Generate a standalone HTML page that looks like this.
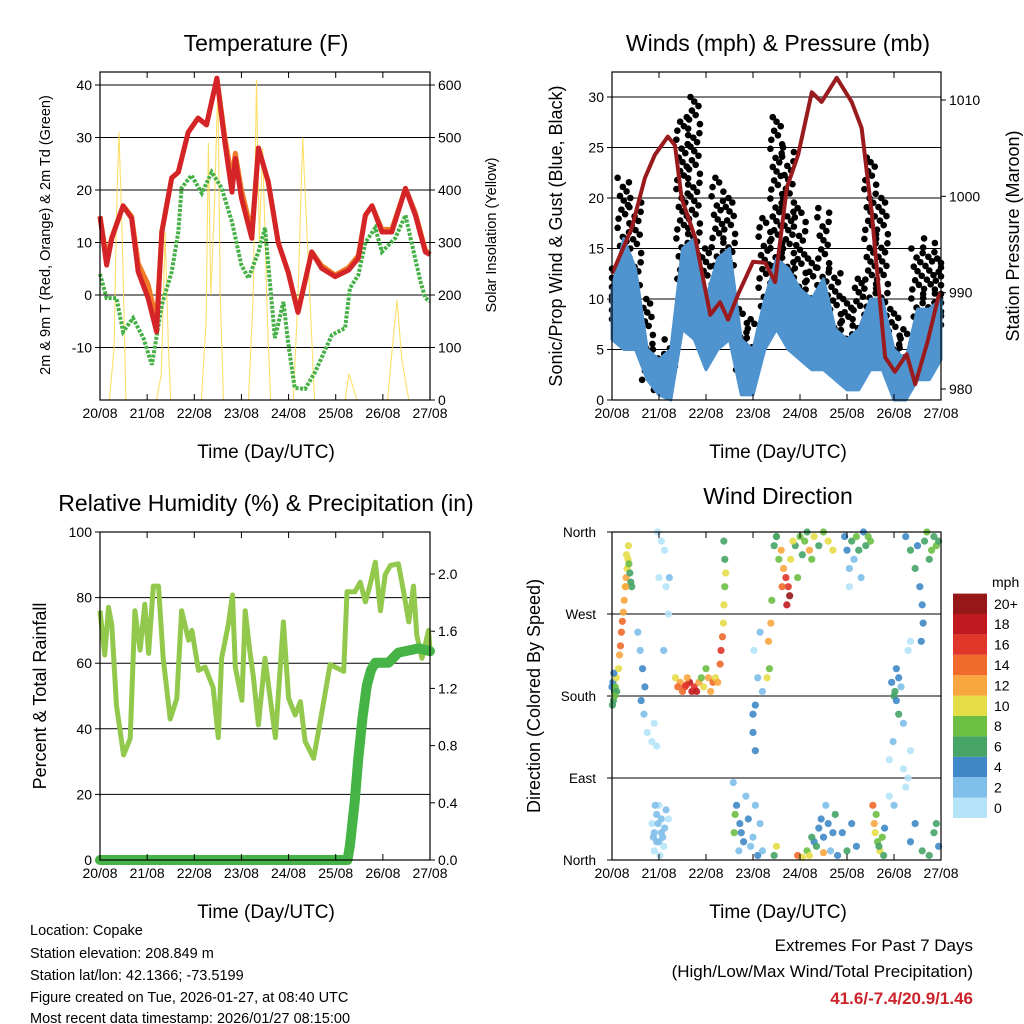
<!DOCTYPE html>
<html><head><meta charset="utf-8">
<style>
html,body{margin:0;padding:0;background:#fff;}
svg{display:block;font-family:"Liberation Sans",sans-serif;}
</style></head>
<body>
<svg id="chart" width="1024" height="1024" viewBox="0 0 1024 1024" xmlns="http://www.w3.org/2000/svg">
<rect x="0" y="0" width="1024" height="1024" fill="#fff"/>
<text x="266" y="51" font-size="23" text-anchor="middle">Temperature (F)</text>
<text x="778" y="51" font-size="23" text-anchor="middle">Winds (mph) &amp; Pressure (mb)</text>
<text x="266" y="511" font-size="23" text-anchor="middle">Relative Humidity (%) &amp; Precipitation (in)</text>
<text x="778" y="504" font-size="23" text-anchor="middle">Wind Direction</text>
<text x="266" y="458" font-size="19" text-anchor="middle">Time (Day/UTC)</text>
<text x="778" y="458" font-size="19" text-anchor="middle">Time (Day/UTC)</text>
<text x="266" y="918" font-size="19" text-anchor="middle">Time (Day/UTC)</text>
<text x="778" y="918" font-size="19" text-anchor="middle">Time (Day/UTC)</text>
<text transform="translate(50,235) rotate(-90)" font-size="14.5" text-anchor="middle">2m &amp; 9m T (Red, Orange) &amp; 2m Td (Green)</text>
<text transform="translate(496,235) rotate(-90)" font-size="14.5" text-anchor="middle">Solar Insolation (Yellow)</text>
<text transform="translate(562,236) rotate(-90)" font-size="18" text-anchor="middle">Sonic/Prop Wind &amp; Gust (Blue, Black)</text>
<text transform="translate(1019,236) rotate(-90)" font-size="18" text-anchor="middle">Station Pressure (Maroon)</text>
<text transform="translate(46,696) rotate(-90)" font-size="18" text-anchor="middle">Percent &amp; Total Rainfall</text>
<text transform="translate(540,696) rotate(-90)" font-size="18" text-anchor="middle">Direction (Colored By Speed)</text>
<g font-size="14.5">
<text x="30" y="935">Location: Copake</text>
<text x="30" y="958">Station elevation: 208.849 m</text>
<text x="30" y="980">Station lat/lon: 42.1366; -73.5199</text>
<text x="30" y="1002">Figure created on Tue, 2026-01-27, at 08:40 UTC</text>
<text x="30" y="1023">Most recent data timestamp: 2026/01/27 08:15:00</text>
</g>
<g font-size="17" text-anchor="end">
<text x="973" y="951">Extremes For Past 7 Days</text>
<text x="973" y="977">(High/Low/Max Wind/Total Precipitation)</text>
<text x="973" y="1004" fill="#cc2229" font-weight="bold">41.6/-7.4/20.9/1.46</text>
</g>
<g id="plots"></g>
</svg>
<script>
// ---------- data ----------
const dayLabels = ["20/08","21/08","22/08","23/08","24/08","25/08","26/08","27/08"];
const tT = [0,0.14,0.25,0.49,0.67,0.81,1.02,1.2,1.31,1.52,1.66,1.87,2.08,2.26,2.48,2.65,2.8,2.87,3.0,3.22,3.36,3.57,3.78,3.99,4.2,4.49,4.7,4.99,5.27,5.48,5.63,5.77,5.98,6.19,6.48,6.69,6.9,7.0];
const tRed = [15,5.7,10.8,17,14.6,4.4,-0.6,-7,12,22.3,23.4,31,33.7,32.4,41.3,29,19.6,26,18.5,10.8,28,21.5,10,4.4,-3.3,8.2,5.1,3.5,4.7,7,15.2,17,12,12,20.3,15.2,8.2,7.7];
const tOrange = [15,7,11,17,15,6,2,-5,12,22.3,23.4,31,33.7,32.4,41.3,30,22,27,20,12,28,21.5,10,4.4,-3.3,8.2,5.6,3.8,5.2,7.5,15.2,17,12.5,12.5,20.3,15.6,8.6,7.7];
const tdT = [0,0.14,0.35,0.49,0.7,0.92,1.1,1.31,1.52,1.66,1.73,1.94,2.16,2.37,2.58,2.8,3.0,3.15,3.36,3.5,3.71,3.89,3.99,4.13,4.35,4.56,4.92,5.2,5.3,5.48,5.63,5.84,5.98,6.26,6.48,6.62,6.8,6.9,7.0];
const tdVal = [4,-0.6,-0.6,-7,-4.4,-8.2,-13.3,-1.9,4.4,12,20.4,22.8,19.4,23.4,20.4,13.9,5.7,3.2,8.2,12.8,-8.2,-1.3,-9,-17.7,-17.9,-14.7,-7.6,-6.3,1.3,3.8,10,12.8,8.2,10.8,15.2,9.5,2.5,-0.6,-1.2];
const solT = [0,0.2,0.3,0.35,0.4,0.45,0.5,0.55,1.2,1.3,1.38,1.45,1.5,2.15,2.25,2.3,2.35,2.42,2.5,2.55,2.62,3.15,3.25,3.32,3.38,3.45,3.55,3.62,4.1,4.2,4.3,4.4,4.55,5.2,5.28,5.35,5.45,6.1,6.2,6.3,6.4,6.55,7];
const solV = [0,0,100,350,510,380,200,0,0,50,320,100,0,0,150,490,200,350,600,200,0,0,200,610,300,480,150,0,0,200,500,300,0,0,50,30,0,0,100,190,80,0,0];
const wT = [0,0.25,0.5,0.75,1,1.25,1.5,1.75,2,2.25,2.5,2.75,3,3.25,3.5,3.75,4,4.25,4.5,4.75,5,5.25,5.5,5.75,6,6.25,6.5,6.75,7];
const windLow = [6,5,5,2,0.5,0,7,6,3,5,6,0.5,0.5,5,7,5,4,3,3,2,1,1,3,3,0,0,2,2,4];
const windHigh = [11,16,13,5,4,5,15,16,10,14,15,6,5,10,14,13,11,10,12,7,6,7,10,10,5,4,9,9,10];
const gustHigh = [13,22,20,10,5,6,28,30,15,22,20,9,8,18,28,25,19,14,19,13,10,12,24,20,9,7,15,16,14];
const presT = [0,0.06,0.42,0.7,0.91,1.19,1.34,1.48,1.77,2.09,2.3,2.47,2.68,3.0,3.26,3.47,3.72,3.96,4.25,4.46,4.78,5.1,5.31,5.53,5.81,6.02,6.27,6.45,6.72,6.94,7];
const presV = [992,992.6,996.7,1001.9,1004.3,1006.2,1005.3,999.8,995.7,987.7,989,987.2,989.8,993.2,993.1,991.1,1000.9,1004.3,1010.8,1009.8,1012.3,1009.8,1007.1,998.1,983.3,981.8,983.6,980.5,985,989.5,990];
const rhT = [0,0.1,0.18,0.25,0.35,0.5,0.64,0.74,0.85,0.95,1.03,1.13,1.24,1.34,1.49,1.63,1.73,1.88,1.95,2.09,2.23,2.4,2.51,2.58,2.72,2.81,2.87,3.01,3.08,3.18,3.25,3.36,3.5,3.61,3.72,3.89,4.0,4.14,4.25,4.35,4.53,4.71,4.88,5.17,5.24,5.41,5.52,5.63,5.73,5.84,5.95,6.05,6.16,6.33,6.44,6.55,6.65,6.72,6.83,6.97,7.0];
const rhV = [76,62.5,77,71.6,47,32,37,76,64,78,63,83.5,83.5,61.5,43,49.2,76,67,70,57.8,58.8,52.6,37.3,61.5,71.6,80.8,58.8,48.7,76,63.4,56.3,41.2,61.5,49.3,37.3,72.6,49.3,44.2,48.3,36.2,31,45.3,59.6,57.5,81.8,81.8,84.7,78.7,83.9,90.8,76,87,89.8,90.3,81.8,72.6,83.5,68.5,61.5,70,64];
const prT = [0,5.25,5.3,5.4,5.48,5.57,5.66,5.75,5.84,6.12,6.33,6.76,7.0];
const prV = [0,0,0.1,0.4,0.71,1.0,1.22,1.33,1.38,1.38,1.45,1.48,1.46];
const dirT = [
 0.0,0.02,0.03,0.05,0.07,0.09,0.1,0.04,0.01,0.06,
 0.14,0.16,0.18,0.2,0.22,0.24,0.26,0.28,0.3,0.32,0.34,0.36,0.38,0.4,0.42,0.31,0.29,0.35,
 0.55,0.6,0.65,0.7,0.62,0.68,0.75,0.85,0.9,0.95,1.0,1.05,0.97,1.12,1.15,1.2,1.1,1.22,
 0.85,0.9,0.95,1.0,1.05,1.1,1.15,0.9,1.0,1.05,1.12,0.95,0.88,0.98,1.08,1.2,0.92,1.02,
 1.35,1.45,1.55,1.65,1.7,1.75,1.85,1.95,2.05,2.1,2.0,2.15,1.5,1.6,1.9,2.2,1.4,1.8,2.25,1.58,
 2.3,2.32,2.35,2.37,2.38,2.4,2.4,2.38,2.42,
 2.58,2.65,2.72,2.8,2.6,2.7,2.9,3.0,3.1,2.62,2.85,3.05,2.75,2.95,3.15,3.2,
 3.0,3.05,3.1,3.02,3.15,3.2,3.3,3.35,3.33,3.38,3.4,3.0,3.05,
 3.45,3.5,3.55,3.6,3.65,3.7,3.75,3.78,3.8,3.9,4.0,3.5,4.1,4.2,4.3,4.4,4.5,4.6,4.7,3.95,3.85,4.05,4.15,4.25,3.62,3.72,
 3.45,3.5,3.95,4.05,4.15,4.3,4.4,4.45,4.35,4.5,4.55,4.6,4.65,4.2,4.7,4.8,4.9,5.0,5.1,5.2,4.75,4.25,4.5,
 4.95,5.0,5.05,5.1,5.2,5.25,5.35,5.05,5.4,5.45,5.5,5.15,5.3,
 5.55,5.58,5.6,5.65,5.7,5.75,5.78,5.8,5.62,5.68,
 5.95,6.0,6.05,6.1,6.15,6.2,6.05,5.98,6.1,6.02,
 6.2,6.35,6.3,6.3,6.35,5.9,6.0,5.9,6.25,
 6.25,6.35,6.45,6.55,6.6,6.65,6.7,6.75,6.8,6.85,6.9,6.95,6.5,6.62,6.58,
 6.35,6.45,6.6,6.75,6.85,6.95,6.9];
const dirV = [
 190,195,175,185,190,200,185,205,170,180,
 210,225,235,250,262,272,285,300,310,320,330,325,315,305,300,335,300,345,
 250,230,210,190,175,160,140,130,150,125,310,350,360,340,300,270,230,310,
 40,30,50,20,45,15,55,10,60,30,35,20,25,40,25,45,60,5,
 200,195,190,195,185,190,195,190,200,185,210,195,185,200,200,200,190,185,195,192,
 215,230,245,260,280,300,330,350,315,
 85,60,40,20,30,10,45,25,5,50,70,60,30,15,40,10,
 140,170,200,230,250,185,200,210,240,260,285,160,120,
 345,355,330,340,320,310,300,290,330,345,355,355,350,340,355,345,360,350,340,310,350,335,360,330,300,280,
 5,15,5,3,10,20,35,45,15,25,60,40,10,5,30,5,30,10,40,15,50,25,8,
 355,340,320,350,355,340,360,300,345,355,350,330,310,
 60,40,30,20,10,25,5,35,50,15,
 195,180,175,160,190,150,210,130,200,185,
 100,240,230,90,120,70,60,110,80,
 355,340,320,300,280,350,360,330,340,355,345,350,345,260,240,
 20,40,10,5,30,15,40];
const dirS = [
 4,4,6,7,8,10,6,4,6,8,
 10,12,14,15,14,13,12,10,12,10,11,8,6,7,6,11,13,10,
 2,3,4,4,4,3,1,0,0,0,0,0,0,0,0,1,2,3,
 1,2,2,2,3,1,2,1,1,3,2,3,2,3,2,1,2,1,
 10,13,16,18,19,17,12,11,13,12,8,14,14,12,9,10,15,18,12,17,
 15,17,14,11,10,9,7,6,10,
 3,4,5,4,8,3,5,2,4,9,2,3,4,3,2,3,
 4,4,3,1,2,3,10,9,13,12,9,4,4,
 6,8,9,12,13,16,17,20,10,7,9,6,8,12,11,7,9,10,11,8,10,7,6,8,14,18,
 6,10,14,10,8,4,4,5,6,4,3,5,2,11,4,5,4,6,4,5,6,7,12,
 4,4,2,6,8,7,5,1,6,8,9,3,2,
 14,12,10,9,11,8,6,5,9,7,
 5,6,4,6,3,2,4,3,5,6,
 0,0,1,0,0,1,3,0,1,
 4,6,7,4,4,6,8,7,9,6,8,7,5,4,4,
 5,4,7,6,7,5,6];
const speedColors = ["#b5e3f8","#80bfe9","#3f88c7","#45a466","#6cbf42","#e5dd48","#f8a63f","#f06a2b","#e0362a","#c0191f","#961718"];
const speedLabels = ["0","2","4","6","8","10","12","14","16","18","20+"];

// ---------- helpers ----------
const NS = "http://www.w3.org/2000/svg";
const root = document.getElementById("plots");
function el(tag, attrs, parent) {
  const e = document.createElementNS(NS, tag);
  for (const k in attrs) e.setAttribute(k, attrs[k]);
  (parent || root).appendChild(e);
  return e;
}
function linScale(d0, d1, r0, r1) { return v => r0 + (v - d0) * (r1 - r0) / (d1 - d0); }
function pathFrom(xs, ys, sx, sy) {
  return xs.map((t, i) => (i ? "L" : "M") + sx(t).toFixed(1) + "," + sy(ys[i]).toFixed(1)).join("");
}
function frame(name) {
  const g = el("g", {});
  
  
  return g;
}
function xAxis(g, sx, y0, y1) {
  dayLabels.forEach((lab, i) => {
    const x = sx(i);
    el("line", {x1: x, y1: y1, x2: x, y2: y1 - 6, stroke: "#000", "stroke-width": 1}, g);
    el("line", {x1: x, y1: y0, x2: x, y2: y0 + 6, stroke: "#000", "stroke-width": 1}, g);
    const t = el("text", {x: x, y: y1 + 18, "font-size": 14, "text-anchor": "middle"}, g);
    t.textContent = lab;
    
    
  });
}
function yTicks(g, sy, vals, x, side, labelFn, grid, x0, x1) {
  vals.forEach(v => {
    const y = sy(v);
    if (grid) el("line", {x1: x0, y1: y, x2: x1, y2: y, stroke: "#000", "stroke-width": 1}, g);
    el("line", {x1: x, y1: y, x2: x + (side < 0 ? -5 : 5), y2: y, stroke: "#000", "stroke-width": 1}, g);
    const t = el("text", {x: x + (side < 0 ? -8 : 8), y: y + 5, "font-size": 14, "text-anchor": side < 0 ? "end" : "start"}, g);
    t.textContent = labelFn(v);
    
    
  });
}
function border(g, x0, x1, y0, y1) {
  el("rect", {x: x0, y: y0, width: x1 - x0, height: y1 - y0, fill: "none", stroke: "#000", "stroke-width": 1.2}, g);
}

// ---------- Panel 1: Temperature ----------
(function () {
  const x0 = 100, x1 = 430, y0 = 72, y1 = 400;
  const sx = linScale(0, 7, x0, x1);
  const sy = linScale(-20, 40, 400, 85);
  const ss = linScale(0, 600, 400, 85);
  const g = frame("temperature-panel");
  yTicks(g, sy, [-10, 0, 10, 20, 30, 40], x0, -1, v => v, true, x0, x1);
  yTicks(g, ss, [0, 100, 200, 300, 400, 500, 600], x1, 1, v => v, false);
  const sol = el("path", {d: pathFrom(solT, solV, sx, ss), fill: "none", stroke: "#fbd94f", "stroke-width": 1.1, "stroke-opacity": 0.85}, g);
  
  
  const td = el("path", {d: pathFrom(tdT, tdVal, sx, sy), fill: "none", stroke: "#45b045", "stroke-width": 4, "stroke-dasharray": "3 1.5"}, g);
  
  
  const or = el("path", {d: pathFrom(tT, tOrange, sx, sy), fill: "none", stroke: "#f07a26", "stroke-width": 5, "stroke-linejoin": "round"}, g);
  
  
  const rd = el("path", {d: pathFrom(tT, tRed, sx, sy), fill: "none", stroke: "#d42427", "stroke-width": 5, "stroke-linejoin": "round"}, g);
  
  
  xAxis(g, sx, y0, y1);
  border(g, x0, x1, y0, y1);
})();

// ---------- Panel 2: Winds ----------
(function () {
  const x0 = 612, x1 = 941, y0 = 72, y1 = 400;
  const sx = linScale(0, 7, x0, x1);
  const sy = linScale(0, 30, 400, 97);
  const sp = linScale(980, 1010, 389, 100);
  const g = frame("winds-panel");
  yTicks(g, sy, [0, 5, 10, 15, 20, 25, 30], x0, -1, v => v, true, x0, x1);
  yTicks(g, sp, [980, 990, 1000, 1010], x1, 1, v => v, false);
  let d = wT.map((t, i) => (i ? "L" : "M") + sx(t).toFixed(1) + "," + sy(windHigh[i]).toFixed(1)).join("");
  for (let i = wT.length - 1; i >= 0; i--) d += "L" + sx(wT[i]).toFixed(1) + "," + sy(windLow[i]).toFixed(1);
  const offs = [-0.11, 0.03, -0.05, 0.09, 0, -0.08, 0.06, -0.02, 0.11, -0.13, 0.12];
  wT.forEach((t, i) => {
    const lo = windHigh[i] - 3, hi = gustHigh[i];
    const n = Math.max(3, Math.round((hi - lo) / 0.45));
    for (let k = 0; k <= n; k++) {
      const v = lo + (hi - lo) * k / n;
      const c = el("circle", {cx: sx(Math.min(7, Math.max(0, t + offs[k % 11]))), cy: sy(v), r: 3.3, fill: "#000"}, g);
      
      
    }
  });
  const band = el("path", {d: d + "Z", fill: "#4f93cf", stroke: "#4f93cf", "stroke-width": 3, "stroke-linejoin": "round"}, g);
  
  
  const pr = el("path", {d: pathFrom(presT, presV, sx, sp), fill: "none", stroke: "#9a1b1e", "stroke-width": 4, "stroke-linejoin": "round"}, g);
  
  
  xAxis(g, sx, y0, y1);
  border(g, x0, x1, y0, y1);
})();

// ---------- Panel 3: RH & Precip ----------
(function () {
  const x0 = 100, x1 = 430, y0 = 532, y1 = 860;
  const sx = linScale(0, 7, x0, x1);
  const sy = linScale(0, 100, 860, 532);
  const sp = linScale(0, 2, 860, 574);
  const g = frame("humidity-panel");
  yTicks(g, sy, [0, 20, 40, 60, 80, 100], x0, -1, v => v, true, x0, x1);
  yTicks(g, sp, [0, 0.4, 0.8, 1.2, 1.6, 2.0], x1, 1, v => v.toFixed(1), false);
  const rh = el("path", {d: pathFrom(rhT, rhV, sx, sy), fill: "none", stroke: "#92c94d", "stroke-width": 5, "stroke-linejoin": "round"}, g);
  
  
  const pr = el("path", {d: pathFrom(prT, prV, sx, sp), fill: "none", stroke: "#46b347", "stroke-width": 10, "stroke-linejoin": "round", "stroke-linecap": "round"}, g);
  
  
  xAxis(g, sx, y0, y1);
  border(g, x0, x1, y0, y1);
})();

// ---------- Panel 4: Wind direction ----------
(function () {
  const x0 = 612, x1 = 941, y0 = 532, y1 = 860;
  const sx = linScale(0, 7, x0, x1);
  const sy = linScale(0, 360, 860, 532);
  const g = frame("wind-direction-panel");
  const names = ["North", "East", "South", "West", "North"];
  [0, 90, 180, 270, 360].forEach((v, i) => {
    const y = sy(v);
    el("line", {x1: x0, y1: y, x2: x1, y2: y, stroke: "#000", "stroke-width": 1}, g);
    el("line", {x1: x0, y1: y, x2: x0 - 5, y2: y, stroke: "#000"}, g);
    const t = el("text", {x: x0 - 16, y: y + 5, "font-size": 13.5, "text-anchor": "end"}, g);
    t.textContent = names[i];
    
    
  });
  dirT.forEach((t, i) => {
    const ci = Math.min(10, Math.floor(dirS[i] / 2));
    const c = el("circle", {cx: sx(t), cy: sy(dirV[i]), r: 3.6, fill: speedColors[ci], "fill-opacity": 0.9}, g);
    
    
  });
  xAxis(g, sx, y0, y1);
  border(g, x0, x1, y0, y1);
  const lg = el("g", {});
  
  
  const mt = el("text", {x: 992, y: 587, "font-size": 14}, lg);
  mt.textContent = "mph";
  const bh = 20.4;
  speedColors.forEach((col, i) => {
    const y = 818 - (i + 1) * bh;
    const r = el("rect", {x: 953, y: y, width: 34, height: bh, fill: col}, lg);
    
    
    const t = el("text", {x: 994, y: y + bh / 2 + 5, "font-size": 14}, lg);
    t.textContent = speedLabels[i];
    
    
  });
})();
</script>
</body></html>
